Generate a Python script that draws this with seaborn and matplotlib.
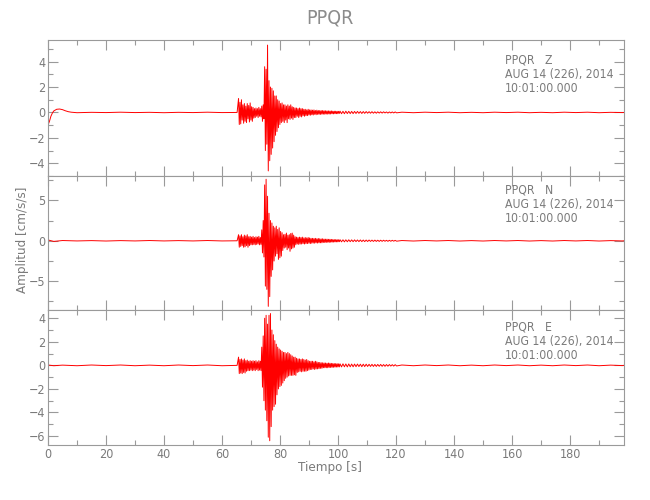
import numpy as np
import matplotlib
matplotlib.use("Agg")
import matplotlib.pyplot as plt
import seaborn as sns

# Estacion y componentes
estacion = "PPQR"
componentes = ["Z", "N", "E"]
fecha = "AUG 14 (226), 2014"
hora = "10:01:00.000"

# Tramo previo al evento (tiempo [s], amplitud [cm/s/s])
t_pre_z = [0, 0.5, 1, 1.5, 2, 3, 4, 5, 6, 7, 8, 10, 15, 20, 25, 30, 35, 40, 45, 50, 55, 60, 65.2]
a_pre_z = [-1.0, -0.7, -0.3, -0.05, 0.12, 0.25, 0.27, 0.22, 0.13, 0.06, 0.02, -0.02, 0.01, -0.01,
           0.02, -0.01, 0.01, -0.02, 0.01, -0.01, 0.02, -0.01, 0.0]
t_pre_ne = [0, 2, 5, 10, 15, 20, 25, 30, 35, 40, 45, 50, 55, 60, 65.2]
a_pre_n = [0.1, -0.08, 0.03, -0.02, 0.02, -0.03, 0.02, -0.02, 0.03, -0.02, 0.02, -0.02, 0.03, -0.02, 0.0]
a_pre_e = [0.03, -0.03, 0.02, -0.03, 0.03, -0.02, 0.03, -0.03, 0.02, -0.03, 0.03, -0.02, 0.03, -0.03, 0.0]

# Picos de la rafaga: positivos en 65.7 + 0.5k, negativos en 65.95 + 0.5k (k = 0..69)
pos_z = [1.1, 0.8, 1.0, 0.6, 0.7, 0.5, 0.7, 0.55, 0.75, 0.45,
         0.4, 0.3, 0.35, 0.3, 0.4, 0.3, 0.5, 0.6, 3.6, 3.4,
         5.3, 2.5, 2.0, 1.9, 1.7, 1.3, 1.3, 1.0, 0.9, 0.7,
         0.75, 0.6, 0.6, 0.5, 0.6, 0.5, 0.6, 0.45, 0.4, 0.35,
         0.35, 0.3, 0.35, 0.3, 0.3, 0.25, 0.25, 0.2, 0.25, 0.2,
         0.2, 0.18, 0.2, 0.15, 0.18, 0.15, 0.15, 0.14, 0.15, 0.13,
         0.13, 0.12, 0.12, 0.11, 0.12, 0.1, 0.1, 0.1, 0.09, 0.09]
neg_z = [-0.95, -0.9, -0.6, -0.85, -0.7, -0.8, -0.5, -0.75, -0.6, -0.7,
         -0.45, -0.4, -0.3, -0.4, -0.3, -0.35, -0.7, -0.5, -3.0, -2.5,
         -4.6, -3.8, -3.3, -2.8, -2.3, -1.8, -1.5, -1.2, -0.95, -0.8,
         -0.7, -0.8, -0.6, -0.8, -0.5, -0.55, -0.45, -0.55, -0.4, -0.4,
         -0.3, -0.4, -0.3, -0.35, -0.25, -0.3, -0.25, -0.25, -0.2, -0.22,
         -0.18, -0.2, -0.15, -0.18, -0.15, -0.15, -0.15, -0.14, -0.13, -0.14,
         -0.12, -0.13, -0.12, -0.12, -0.1, -0.11, -0.1, -0.1, -0.1, -0.08]
pos_n = [0.75, 0.6, 0.75, 0.5, 0.7, 0.6, 0.75, 0.5, 0.55, 0.45,
         0.55, 0.4, 0.5, 0.45, 0.55, 0.4, 1.35, 2.5, 6.9, 7.6,
         5.5, 3.4, 2.5, 2.2, 1.8, 1.6, 1.8, 1.4, 1.6, 1.15,
         1.0, 0.75, 0.8, 0.95, 0.7, 0.75, 0.9, 0.95, 0.7, 0.5,
         0.45, 0.4, 0.45, 0.4, 0.45, 0.35, 0.4, 0.35, 0.4, 0.35,
         0.3, 0.3, 0.28, 0.3, 0.25, 0.28, 0.25, 0.22, 0.25, 0.2,
         0.2, 0.2, 0.18, 0.18, 0.17, 0.16, 0.15, 0.15, 0.14, 0.13]
neg_n = [-0.8, -0.7, -0.6, -0.8, -0.75, -0.6, -0.8, -0.6, -0.5, -0.5,
         -0.45, -0.5, -0.45, -0.4, -0.5, -0.45, -1.5, -2.0, -5.6, -6.0,
         -8.1, -6.9, -4.4, -3.6, -2.5, -1.9, -1.6, -2.3, -2.1, -1.9,
         -1.2, -0.9, -0.8, -1.1, -0.9, -1.3, -1.0, -0.9, -0.8, -0.5,
         -0.4, -0.45, -0.4, -0.4, -0.35, -0.4, -0.35, -0.35, -0.3, -0.35,
         -0.3, -0.28, -0.3, -0.25, -0.28, -0.25, -0.25, -0.25, -0.2, -0.22,
         -0.2, -0.18, -0.2, -0.17, -0.17, -0.16, -0.15, -0.14, -0.14, -0.12]
pos_e = [0.7, 0.5, 0.55, 0.45, 0.55, 0.4, 0.45, 0.35, 0.4, 0.35,
         0.4, 0.35, 0.4, 0.3, 0.4, 0.35, 1.55, 2.5, 4.0, 4.25,
         3.5, 4.25, 4.4, 3.0, 2.6, 2.1, 1.8, 1.55, 1.4, 1.3,
         1.2, 1.1, 1.1, 1.0, 1.1, 1.0, 0.9, 0.8, 0.7, 0.7,
         0.6, 0.55, 0.55, 0.5, 0.55, 0.5, 0.45, 0.5, 0.4, 0.35,
         0.35, 0.35, 0.3, 0.35, 0.3, 0.25, 0.25, 0.22, 0.22, 0.2,
         0.2, 0.18, 0.2, 0.18, 0.17, 0.16, 0.15, 0.15, 0.14, 0.13]
neg_e = [-0.7, -0.65, -0.7, -0.6, -0.65, -0.5, -0.45, -0.45, -0.4, -0.45,
         -0.4, -0.45, -0.35, -0.45, -0.4, -0.45, -1.85, -3.0, -3.8, -4.7,
         -6.1, -6.4, -5.2, -3.8, -3.5, -3.3, -2.5, -2.0, -1.8, -1.7,
         -1.5, -1.3, -1.1, -1.0, -0.9, -0.85, -0.85, -0.85, -0.8, -0.85,
         -0.6, -0.55, -0.5, -0.55, -0.5, -0.5, -0.5, -0.45, -0.4, -0.35,
         -0.35, -0.3, -0.35, -0.3, -0.3, -0.28, -0.25, -0.25, -0.2, -0.2,
         -0.2, -0.2, -0.18, -0.18, -0.17, -0.16, -0.15, -0.14, -0.14, -0.13]

# Coda cercana: picos alternos cada 0.5 s desde 100.7 s (40 valores)
coda_z = [0.1, -0.1, 0.09, -0.1, 0.1, -0.09, 0.09, -0.09, 0.08, -0.09,
          0.08, -0.08, 0.08, -0.07, 0.07, -0.08, 0.07, -0.07, 0.07, -0.06,
          0.06, -0.06, 0.06, -0.06, 0.05, -0.06, 0.05, -0.05, 0.05, -0.05,
          0.05, -0.04, 0.04, -0.05, 0.04, -0.04, 0.04, -0.04, 0.04, -0.03]
coda_n = [0.13, -0.13, 0.12, -0.13, 0.12, -0.12, 0.12, -0.11, 0.11, -0.11,
          0.11, -0.1, 0.1, -0.1, 0.1, -0.1, 0.09, -0.1, 0.09, -0.09,
          0.09, -0.08, 0.08, -0.08, 0.08, -0.08, 0.07, -0.08, 0.07, -0.07,
          0.07, -0.06, 0.06, -0.07, 0.06, -0.06, 0.06, -0.05, 0.05, -0.05]
coda_e = [0.13, -0.13, 0.13, -0.12, 0.12, -0.13, 0.12, -0.12, 0.11, -0.12,
          0.11, -0.11, 0.11, -0.1, 0.1, -0.11, 0.1, -0.1, 0.1, -0.09,
          0.09, -0.09, 0.09, -0.09, 0.08, -0.09, 0.08, -0.08, 0.08, -0.08,
          0.07, -0.08, 0.07, -0.07, 0.07, -0.06, 0.06, -0.06, 0.06, -0.05]
# Resto del registro: cada 4 s desde 122 s (20 valores)
resto_z = [0.02, -0.02, 0.02, -0.01, 0.02, -0.02, 0.01, -0.02, 0.02, -0.01,
           0.02, -0.02, 0.01, -0.02, 0.02, -0.01, 0.02, -0.02, 0.01, -0.01]
resto_n = [0.03, -0.03, 0.03, -0.02, 0.03, -0.03, 0.02, -0.03, 0.03, -0.02,
           0.03, -0.03, 0.02, -0.03, 0.03, -0.02, 0.03, -0.03, 0.02, -0.02]
resto_e = [0.03, -0.03, 0.03, -0.02, 0.03, -0.03, 0.02, -0.03, 0.03, -0.02,
           0.03, -0.03, 0.02, -0.03, 0.03, -0.02, 0.03, -0.03, 0.02, -0.02]

t_fin = 198.6
limites_y = [(-5.0, 5.7), (-8.55, 8.0), (-6.76, 4.7)]
paso_mayor = [2, 5, 2]
paso_menor = [1, 2.5, 1]


def armar_traza(t_pre, a_pre, pos, neg, coda, resto):
    k = np.arange(len(pos))
    t_raf = np.empty(2 * len(pos))
    a_raf = np.empty(2 * len(pos))
    t_raf[0::2] = 65.7 + 0.5 * k
    t_raf[1::2] = 65.95 + 0.5 * k
    a_raf[0::2] = pos
    a_raf[1::2] = neg
    t_coda = 100.7 + 0.5 * np.arange(len(coda))
    t_resto = 122 + 4 * np.arange(len(resto))
    t = np.concatenate([t_pre, t_raf, t_coda, t_resto, [t_fin]])
    a = np.concatenate([a_pre, a_raf, coda, resto, [0.0]])
    return t, a


trazas = [
    armar_traza(t_pre_z, a_pre_z, pos_z, neg_z, coda_z, resto_z),
    armar_traza(t_pre_ne, a_pre_n, pos_n, neg_n, coda_n, resto_n),
    armar_traza(t_pre_ne, a_pre_e, pos_e, neg_e, coda_e, resto_e),
]

sns.set_style("ticks")
gris = "#9a9a9a"
gris_txt = "#7a7a7a"
plt.rcParams['font.family'] = ['DejaVu Sans']
plt.rcParams['font.stretch'] = 'condensed'
plt.rcParams.update({
    "axes.edgecolor": gris,
    "xtick.color": gris,
    "ytick.color": gris,
    "xtick.labelcolor": gris_txt,
    "ytick.labelcolor": gris_txt,
    "axes.linewidth": 0.8,
})

fig = plt.figure(figsize=(6.5, 5), dpi=100)
W, H = 650, 500
izq, der = 48, 624
bordes = [40, 176, 310, 445]

for i, (t, a) in enumerate(trazas):
    y0, y1 = bordes[i], bordes[i + 1]
    ax = fig.add_axes([izq / W, 1 - y1 / H, (der - izq) / W, (y1 - y0) / H])
    sns.lineplot(x=t, y=a, ax=ax, color="#ff0000", lw=0.7, estimator=None, sort=False)
    ax.set_xlim(0, t_fin)
    ax.set_ylim(*limites_y[i])
    ax.xaxis.set_major_locator(plt.MultipleLocator(20))
    ax.xaxis.set_minor_locator(plt.MultipleLocator(10))
    ax.yaxis.set_major_locator(plt.MultipleLocator(paso_mayor[i]))
    ax.yaxis.set_minor_locator(plt.MultipleLocator(paso_menor[i]))
    ax.tick_params(which="both", direction="in", top=True, right=True, width=0.8, labelsize=9, pad=2)
    ax.tick_params(which="major", length=7)
    ax.tick_params(which="minor", length=3.5)
    if i < 2:
        ax.tick_params(labelbottom=False)
    ax.set_xlabel("")
    ax.set_ylabel("")
    yt = [0.855, 0.895, 0.875][i]
    for j, linea in enumerate([f"{estacion}   {componentes[i]}", fecha, hora]):
        ax.text(0.793, yt - j * 0.107, linea, transform=ax.transAxes, fontsize=8.7,
                color=gris_txt, va="center", ha="left")

fig.text(0.508, 0.964, estacion, ha="center", va="center", fontsize=14, color="#8c8c8c")
fig.text(0.508, 0.064, "Tiempo [s]", ha="center", va="center", fontsize=9.5, color=gris_txt)
fig.text(0.035, 0.52, "Amplitud [cm/s/s]", ha="center", va="center", rotation=90,
         fontsize=9.5, color=gris_txt)

fig.savefig("out.png", dpi=100)
